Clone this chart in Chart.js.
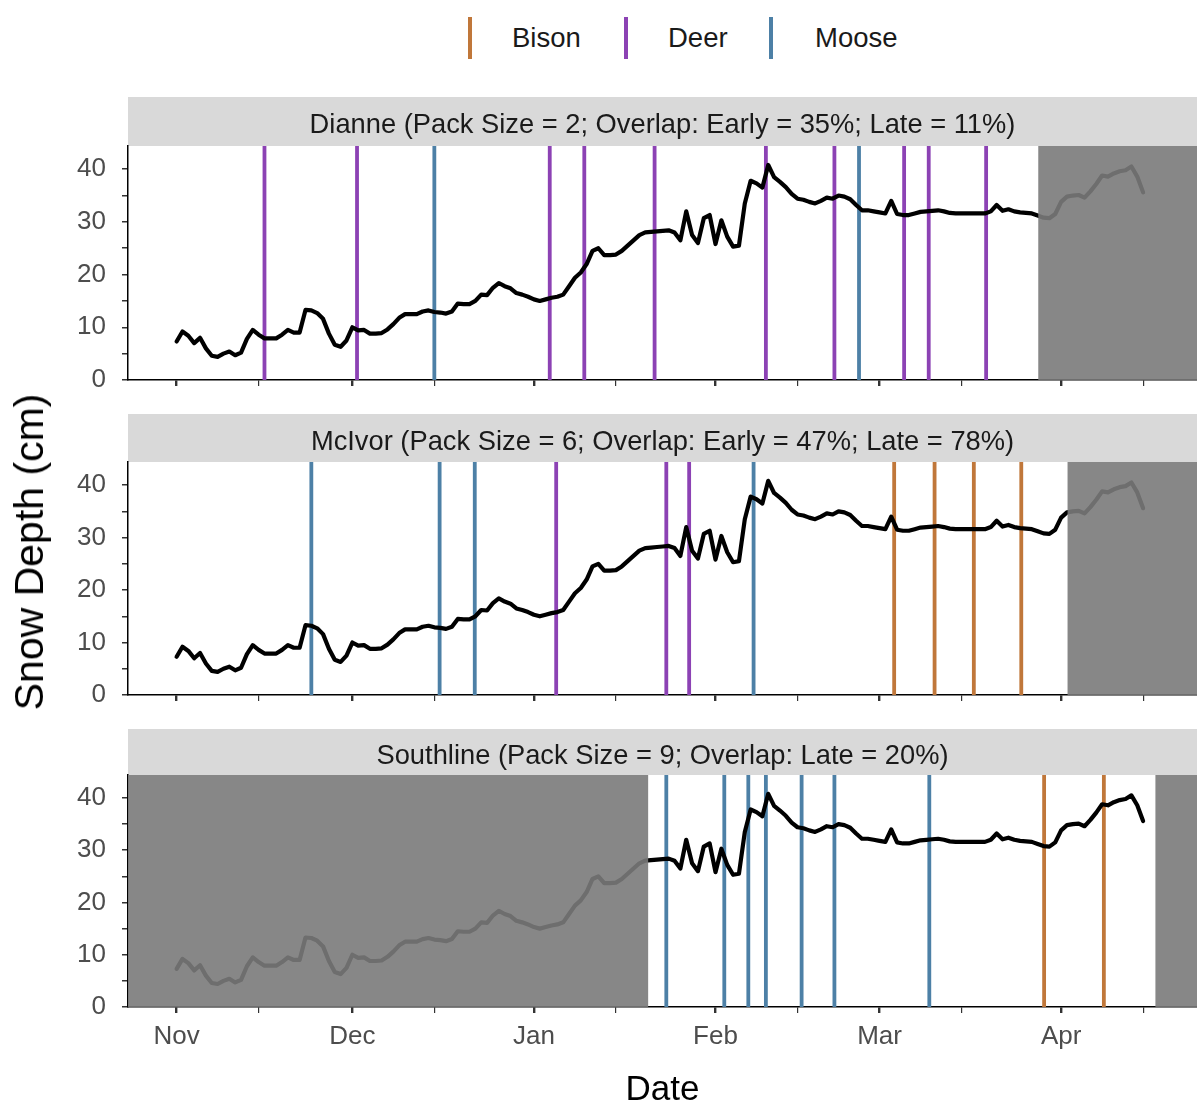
<!DOCTYPE html>
<html>
<head>
<meta charset="utf-8">
<script src="https://cdn.jsdelivr.net/npm/chart.js@4.4.1/dist/chart.umd.min.js"></script>
<style>
  body { margin: 0; background: #fff; font-family: "Liberation Sans", Arial, sans-serif; }
  #wrap { position: relative; width: 1197px; height: 1106px; overflow: hidden; }
  canvas.panel { position: absolute; left: 0; }
  .key { position: absolute; top: 17px; width: 4px; height: 42px; }
  .keylab { position: absolute; top: 21px; font-size: 27.5px; line-height: 34px; color: #1a1a1a; }
  #xtitle { position: absolute; left: 128px; width: 1069px; top: 1068px; text-align: center; font-size: 35px; line-height: 40px; color: #000; }
  #ytitle { position: absolute; left: 29px; top: 552px; font-size: 41px; line-height: 44px; color: #000;
            transform: translate(-50%, -50%) rotate(-90deg); white-space: nowrap; }
</style>
</head>
<body>
<div id="wrap">
  <div class="key" style="left:468px;background:#C0773A"></div><div class="keylab" style="left:512px">Bison</div>
  <div class="key" style="left:624px;background:#8C42B4"></div><div class="keylab" style="left:668px">Deer</div>
  <div class="key" style="left:769px;background:#4D80A6"></div><div class="keylab" style="left:815px">Moose</div>
  <canvas id="p0" class="panel"></canvas>
  <canvas id="p1" class="panel"></canvas>
  <canvas id="p2" class="panel"></canvas>
  <div id="xtitle">Date</div>
  <div id="ytitle">Snow Depth (cm)</div>
</div>
<script>
// day 0 = Nov 1; one snow depth reading (cm) per day
const depthCm = [
  7.3, 9.2, 8.4, 7.0, 8.0, 6.0, 4.6, 4.4, 5.0, 5.4,
  4.7, 5.2, 7.8, 9.5, 8.6, 7.9, 7.9, 7.9, 8.6, 9.5,
  9.0, 9.0, 13.3, 13.2, 12.7, 11.6, 8.8, 6.7, 6.3, 7.5,
  10.0, 9.4, 9.5, 8.8, 8.8, 8.9, 9.6, 10.6, 11.8, 12.5,
  12.5, 12.5, 13.0, 13.2, 12.9, 12.8, 12.6, 13.0, 14.5, 14.4,
  14.4, 15.0, 16.2, 16.1, 17.5, 18.4, 17.8, 17.4, 16.5, 16.2,
  15.8, 15.3, 15.0, 15.3, 15.6, 15.8, 16.2, 17.8, 19.4, 20.4,
  22.0, 24.5, 25.0, 23.7, 23.7, 23.8, 24.5, 25.5, 26.5, 27.5,
  28.0, 28.1, 28.2, 28.3, 28.4, 28.0, 26.5, 32.0, 27.5, 26.0,
  30.7, 31.3, 25.8, 30.3, 27.2, 25.3, 25.5, 33.5, 37.8, 37.3,
  36.5, 40.8, 38.5, 37.6, 36.6, 35.3, 34.4, 34.2, 33.8, 33.5,
  34.0, 34.6, 34.4, 35.0, 34.8, 34.3, 33.2, 32.2, 32.2, 32.0,
  31.8, 31.6, 34.0, 31.5, 31.3, 31.3, 31.6, 31.9, 32.0, 32.1,
  32.2, 32.0, 31.7, 31.6, 31.6, 31.6, 31.6, 31.6, 31.6, 32.0,
  33.2, 32.1, 32.4, 32.0, 31.8, 31.7, 31.6, 31.2, 30.8, 30.7,
  31.5, 33.8, 34.8, 35.0, 35.1, 34.6, 35.8, 37.2, 38.8, 38.6,
  39.2, 39.6, 39.8, 40.5, 38.6, 35.6
];

const monthTickDays = [0, 30, 61, 92, 120, 151];
const monthLabels = ['Nov', 'Dec', 'Jan', 'Feb', 'Mar', 'Apr'];
const midMonthTickDays = [14, 44, 75, 106, 134, 165];
const depthTicks = [0, 5, 10, 15, 20, 25, 30, 35, 40];

const packTitles = [
  'Dianne (Pack Size = 2; Overlap: Early = 35%; Late = 11%)',
  'McIvor (Pack Size = 6; Overlap: Early = 47%; Late = 78%)',
  'Southline (Pack Size = 9; Overlap: Late = 20%)'
];

// kill days (days since Nov 1)
const dianneBison = [];
const dianneDeer = [15.0, 30.8, 63.7, 69.6, 81.6, 100.6, 112.3, 124.2, 128.4, 138.2];
const dianneMoose = [44.0, 116.5];
const mcivorBison = [122.5, 129.4, 136.1, 144.2];
const mcivorDeer = [64.8, 83.6, 87.5];
const mcivorMoose = [23.0, 44.9, 50.9, 98.5];
const southlineBison = [148.1, 158.3];
const southlineDeer = [];
const southlineMoose = [83.6, 93.5, 97.6, 100.6, 106.7, 112.3, 128.5];

// periods outside each pack's monitoring window
const dianneOff = [[147.1, 200]];
const mcivorOff = [[152.1, 200]];
const southlineOff = [[-20, 80.5], [167.1, 200]];

const speciesColors = { Bison: '#C0773A', Deer: '#8C42B4', Moose: '#4D80A6' };

const xMin = -8.3, xMax = 174.2, yMin = 0, yMax = 44.4;

const panels = [
  { id: 'p0', top: 97, strip: 49, plot: 234, axis: 40, labels: false,
    kills: { Bison: dianneBison, Deer: dianneDeer, Moose: dianneMoose }, off: dianneOff },
  { id: 'p1', top: 414, strip: 48, plot: 233, axis: 40, labels: false,
    kills: { Bison: mcivorBison, Deer: mcivorDeer, Moose: mcivorMoose }, off: mcivorOff },
  { id: 'p2', top: 729, strip: 46, plot: 232, axis: 60, labels: true,
    kills: { Bison: southlineBison, Deer: southlineDeer, Moose: southlineMoose }, off: southlineOff }
];

const stripPlugin = {
  id: 'strip',
  beforeDraw(chart, args, opts) {
    const { ctx, chartArea } = chart;
    ctx.save();
    ctx.fillStyle = '#d9d9d9';
    ctx.fillRect(chartArea.left, 0, chartArea.right - chartArea.left, chartArea.top);
    ctx.fillStyle = '#1a1a1a';
    ctx.font = '27.3px "Liberation Sans", Arial, sans-serif';
    ctx.textAlign = 'center';
    ctx.textBaseline = 'middle';
    ctx.fillText(opts.title, (chartArea.left + chartArea.right) / 2, chartArea.top / 2 + 4);
    ctx.restore();
  }
};

const shadePlugin = {
  id: 'shade',
  afterDatasetsDraw(chart, args, opts) {
    const { ctx, chartArea, scales } = chart;
    ctx.save();
    ctx.beginPath();
    ctx.rect(chartArea.left, chartArea.top, chartArea.right - chartArea.left, chartArea.bottom - chartArea.top);
    ctx.clip();
    ctx.fillStyle = 'rgba(122,122,122,0.9)';
    opts.ranges.forEach(r => {
      const x0 = scales.x.getPixelForValue(r[0]);
      const x1 = scales.x.getPixelForValue(r[1]);
      ctx.fillRect(x0, chartArea.top, x1 - x0, chartArea.bottom - chartArea.top);
    });
    ctx.restore();
  }
};

const allXTicks = monthTickDays.concat(midMonthTickDays).sort((a, b) => a - b);

panels.forEach((p, k) => {
  const canvas = document.getElementById(p.id);
  canvas.width = 1197;
  canvas.height = p.strip + p.plot + p.axis;
  canvas.style.top = p.top + 'px';

  const datasets = [{
    label: 'Snow depth',
    data: depthCm.map((v, d) => ({ x: d, y: v })),
    borderColor: '#000',
    borderWidth: 4.2,
    borderJoinStyle: 'round',
    borderCapStyle: 'round',
    pointRadius: 0,
    tension: 0,
    order: 0
  }];
  Object.keys(p.kills).forEach(sp => {
    const pts = [];
    p.kills[sp].forEach(d => { pts.push({ x: d, y: yMin }, { x: d, y: yMax }, { x: d, y: null }); });
    datasets.push({
      label: sp,
      data: pts,
      borderColor: speciesColors[sp],
      borderWidth: 3.8,
      pointRadius: 0,
      spanGaps: false,
      order: 1
    });
  });

  new Chart(canvas, {
    type: 'line',
    data: { datasets: datasets },
    plugins: [stripPlugin, shadePlugin],
    options: {
      responsive: false,
      animation: false,
      events: [],
      layout: { padding: { top: p.strip, left: 0, right: 0, bottom: 0 } },
      plugins: {
        legend: { display: false },
        tooltip: { enabled: false },
        strip: { title: packTitles[k] },
        shade: { ranges: p.off }
      },
      scales: {
        x: {
          type: 'linear',
          min: xMin,
          max: xMax,
          afterBuildTicks: s => { s.ticks = allXTicks.map(v => ({ value: v, major: monthTickDays.includes(v) })); },
          afterFit: s => { s.height = p.axis; },
          ticks: {
            autoSkip: false,
            maxRotation: 0,
            padding: 8,
            color: '#4d4d4d',
            font: { family: '"Liberation Sans", Arial, sans-serif', size: 26 },
            callback: v => p.labels ? (monthLabels[monthTickDays.indexOf(v)] || '') : ''
          },
          grid: {
            drawOnChartArea: false,
            drawTicks: true,
            tickLength: 6,
            color: '#333',
            lineWidth: c => (c.tick && c.tick.major) ? 2.4 : 1.2
          },
          border: { display: true, color: '#000', width: 1.5 }
        },
        y: {
          min: yMin,
          max: yMax,
          afterBuildTicks: s => { s.ticks = depthTicks.map(v => ({ value: v })); },
          afterFit: s => { s.width = 128; },
          ticks: {
            autoSkip: false,
            padding: 16,
            color: '#4d4d4d',
            font: { family: '"Liberation Sans", Arial, sans-serif', size: 26 },
            callback: v => (v % 10 === 0 ? String(v) : '')
          },
          grid: {
            drawOnChartArea: false,
            drawTicks: true,
            tickLength: 6,
            color: '#333',
            lineWidth: 1.5
          },
          border: { display: true, color: '#000', width: 1.5 }
        }
      }
    }
  });
});
</script>
</body>
</html>
